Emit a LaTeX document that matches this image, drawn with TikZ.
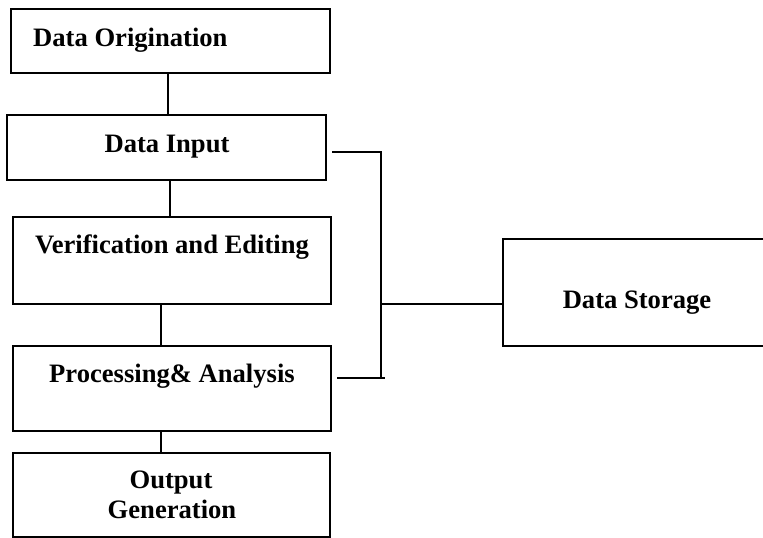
\documentclass[tikz,border=0pt]{standalone}
\usepackage{fontspec}
\setmainfont{Liberation Serif}
\begin{document}
\begin{tikzpicture}[x=1pt,y=-1pt,
  box/.style={draw, rectangle, line width=1.4pt, inner sep=0pt},
  lbl/.style={font=\fontsize{26.6}{30}\selectfont\bfseries, inner sep=0pt, anchor=base},
  link/.style={line width=1.4pt}]
\useasboundingbox (0,0) rectangle (763,538);
\clip (0,0) rectangle (763,538);
% boxes
\node[box, line width=2.6pt, minimum width=319pt, minimum height=64pt] (DO) at (170.5,41) {};
\node[box, minimum width=319pt, minimum height=65pt] (DI) at (166.5,147.5) {};
\node[box, minimum width=318pt, minimum height=87pt] (VE) at (172,260.5) {};
\node[box, minimum width=318pt, minimum height=85pt] (PA) at (172,388.5) {};
\node[box, minimum width=317pt, minimum height=84pt] (OG) at (171.5,495) {};
\node[box, minimum width=272pt, minimum height=107pt] (DS) at (639,292.5) {};
% labels
\node[lbl, anchor=base west] (tDO) at (33,46) {Data Origination};
\node[lbl] (tDI) at (167,152) {Data Input};
\node[lbl] (tVE) at (172,253) {Verification and Editing};
\node[lbl] (tPA) at (172,382) {Processing\& Analysis};
\node[lbl] (tOG1) at (171,488) {Output};
\node[lbl] (tOG2) at (172,518) {Generation};
\node[lbl] (tDS) at (637,308) {Data Storage};
% vertical connectors
\coordinate (x1) at (168,0);
\coordinate (x2) at (170,0);
\coordinate (x3) at (161,0);
\draw[link] (x1 |- DO.south) -- (x1 |- DI.north);
\draw[link] (x2 |- DI.south) -- (x2 |- VE.north);
\draw[link] (x3 |- VE.south) -- (x3 |- PA.north);
\draw[link] (x3 |- PA.south) -- (x3 |- OG.north);
% bracket to storage
\coordinate (bI) at (332,152);
\coordinate (bBot) at (381,378);
\coordinate (pL) at (337,378);
\coordinate (pR) at (385,378);
\coordinate (bM) at (381,304);
\draw[link] (bI) -| (bBot);
\draw[link] (pL) -- (pR);
\draw[link] (bM) -- (DS.west |- bM);
\end{tikzpicture}
\end{document}
